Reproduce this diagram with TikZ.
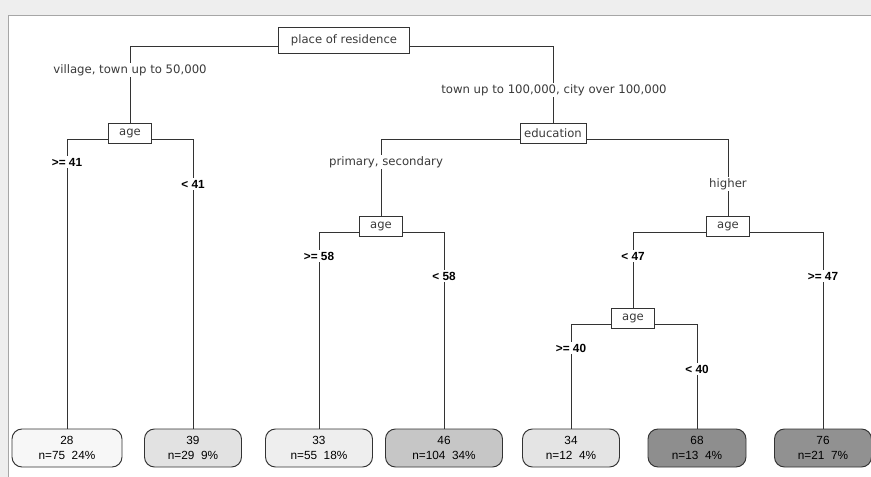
\documentclass[tikz,border=0pt]{standalone}
\usepackage{fontspec}
\setmainfont{DejaVu Sans}
\newfontfamily\arialf{Liberation Sans}
\definecolor{ln}{HTML}{333333}
\definecolor{tx}{HTML}{3A3A3A}
\definecolor{bg}{HTML}{EEEEEE}
\definecolor{fa}{HTML}{F7F7F7}
\definecolor{fb}{HTML}{E2E2E2}
\definecolor{fc}{HTML}{EEEEEE}
\definecolor{fd}{HTML}{C6C6C6}
\definecolor{fe}{HTML}{E4E4E4}
\definecolor{ff}{HTML}{8E8E8E}
\definecolor{fg}{HTML}{919191}
\tikzset{
  inner/.style={draw=ln, line width=0.95pt, fill=white, font=\fontsize{11.6}{12}\selectfont, text=tx, inner sep=0pt, minimum height=20pt},
  leaf/.style={draw=ln, line width=0.95pt, rounded corners=10pt, minimum height=38pt, inner sep=0pt, align=center, font=\arialf\fontsize{11.8}{15.5}\selectfont, text=black},
  elab/.style={fill=white, inner sep=1.5pt, font=\fontsize{11.7}{12}\selectfont, text=tx},
  blab/.style={fill=white, inner sep=2pt, font=\arialf\bfseries\fontsize{11.8}{12}\selectfont, text=black},
  conn/.style={draw=ln, line width=0.95pt}
}
\begin{document}
\begin{tikzpicture}[x=1pt,y=-1pt]
\useasboundingbox (0,0) rectangle (871,477);
\fill[bg] (0,0) rectangle (871,477);
\fill[white] (8,15) rectangle (871,477);
\draw[gray!70, line width=1pt] (8,477) -- (8,15) -- (871,15);
% inner nodes
\node[inner, minimum width=131pt, minimum height=26pt] (root) at (344,40) {place of residence};
\node[inner, minimum width=43pt] (age1) at (130,133.5) {age};
\node[inner, minimum width=66pt] (edu) at (553,133) {education};
\node[inner, minimum width=43pt] (age2) at (381,226) {age};
\node[inner, minimum width=43pt] (age3) at (728,226) {age};
\node[inner, minimum width=43pt] (age4) at (633,318) {age};
% leaves
\node[leaf, fill=fa, minimum width=110pt] (l1) at (67,448) {28\\n=75\ \ 24\%};
\node[leaf, fill=fb, minimum width=97pt] (l2) at (193,448) {39\\n=29\ \ 9\%};
\node[leaf, fill=fc, minimum width=107pt] (l3) at (319,448) {33\\n=55\ \ 18\%};
\node[leaf, fill=fd, minimum width=117pt] (l4) at (444,448) {46\\n=104\ \ 34\%};
\node[leaf, fill=fe, minimum width=97pt] (l5) at (571,448) {34\\n=12\ \ 4\%};
\node[leaf, fill=ff, minimum width=98pt] (l6) at (697,448) {68\\n=13\ \ 4\%};
\node[leaf, fill=fg, minimum width=97pt] (l7) at (823,448) {76\\n=21\ \ 7\%};
% connectors
\draw[conn] ([yshift=-6pt]root.west) -| (age1.north);
\draw[conn] ([yshift=-6pt]root.east) -| (edu.north);
\draw[conn] ([yshift=-6pt]age1.west) -| (l1.north);
\draw[conn] ([yshift=-6pt]age1.east) -| (l2.north);
\draw[conn] ([yshift=-6pt]edu.west) -| (age2.north);
\draw[conn] ([yshift=-6pt]edu.east) -| (age3.north);
\draw[conn] ([yshift=-6pt]age2.west) -| (l3.north);
\draw[conn] ([yshift=-6pt]age2.east) -| (l4.north);
\draw[conn] ([yshift=-6pt]age3.west) -| (age4.north);
\draw[conn] ([yshift=-6pt]age3.east) -| (l7.north);
\draw[conn] ([yshift=-6pt]age4.west) -| (l5.north);
\draw[conn] ([yshift=-6pt]age4.east) -| (l6.north);
% edge labels
\node[elab] (e1) at (130,70) {village, town up to 50,000};
\node[elab] (e2) at (554,90) {town up to 100,000, city over 100,000};
\node[elab] (e3) at (386,162) {primary, secondary};
\node[elab] (e4) at (728,184) {higher};
\node[blab] (b1) at (67,162) {>= 41};
\node[blab] (b2) at (193,184) {< 41};
\node[blab] (b3) at (319,256) {>= 58};
\node[blab] (b4) at (444,276) {< 58};
\node[blab] (b5) at (633,256) {< 47};
\node[blab] (b6) at (823,276) {>= 47};
\node[blab] (b7) at (571,348) {>= 40};
\node[blab] (b8) at (697,369) {< 40};
\end{tikzpicture}
\end{document}
